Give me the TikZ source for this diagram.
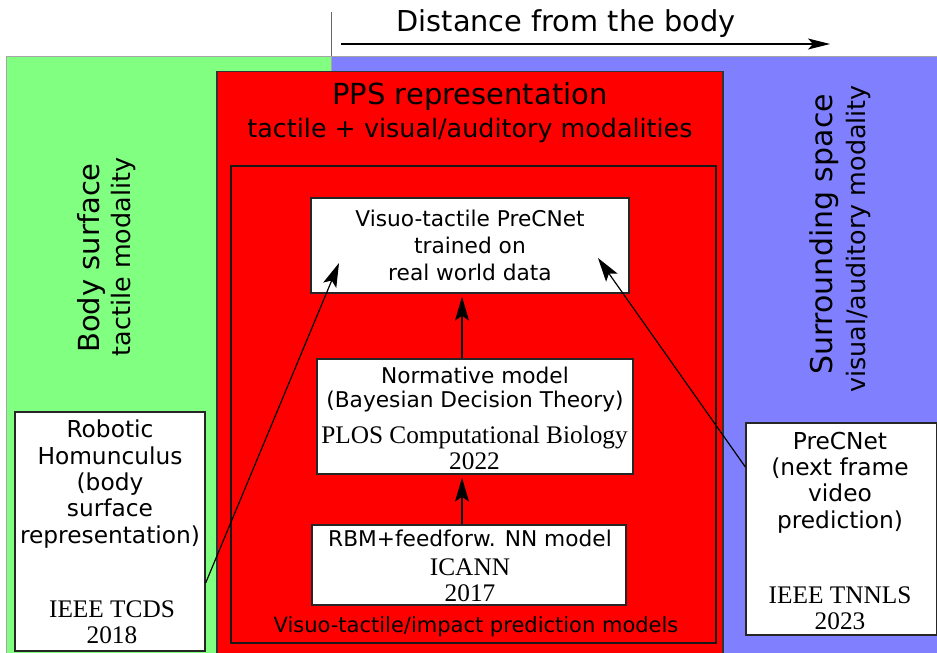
\documentclass[tikz,border=0pt]{standalone}
\usepackage{fontspec}
\setmainfont{DejaVu Sans}
\newfontfamily\pubfont{Liberation Serif}
\usetikzlibrary{arrows.meta,calc}
\definecolor{greenreg}{HTML}{80FF80}
\definecolor{bluereg}{HTML}{8080FF}
\definecolor{redreg}{HTML}{FF0000}
\begin{document}
\begin{tikzpicture}[x=1pt,y=-1pt,
  box/.style={draw=black!85, line width=1.3pt, fill=white, inner sep=0pt},
  arr/.style={-{Stealth[length=24pt,width=14pt,inset=5pt]}, line width=1.2pt, shorten >=3pt},
  txt/.style={anchor=base, align=center, inner sep=0pt},
  inbox/.style={txt, font=\fontsize{21.7}{27}\selectfont},
  sidebox/.style={txt, font=\fontsize{23.3}{26.3}\selectfont},
  pub/.style={txt, font=\pubfont\fontsize{25.3}{25.5}\selectfont},
  biglab/.style={txt, font=\fontsize{29}{32}\selectfont},
  sublab/.style={txt, font=\fontsize{25.4}{28}\selectfont}]
\useasboundingbox (0,0) rectangle (937,653);
\clip (0,0) rectangle (937,653);
% background regions
\path[draw=gray!70, line width=1pt, fill=greenreg] (6,56) rectangle (331,670);
\path[draw=gray!70, line width=1pt, fill=bluereg] (331,56) rectangle (950,670);
\draw[gray!80!black, line width=0.8pt] (331,12) -- (331,56);
\path[draw=black!80, line width=1.2pt, fill=redreg] (217,71.5) rectangle (723,670);
\draw[black!90, line width=1.3pt] (231,166) rectangle (716,643);
% distance arrow
\node[txt, font=\fontsize{28.8}{30}\selectfont] (dist) at (566,31.4) {Distance from the body};
\coordinate (d0) at (341,44);
\coordinate (d1) at (830,44);
\draw[-{Stealth[length=22pt,width=11pt,inset=5pt]}, line width=1.1pt] (d0) -- (d1);
% region labels
\node[biglab] (pps) at (470,104) {PPS representation};
\node[sublab] (ppsm) at (470,137.5) {tactile + visual/auditory modalities};
\node[biglab, rotate=90] (bs) at (99,258) {Body surface};
\node[sublab, rotate=90] (bsm) at (130,257) {tactile modality};
\node[biglab, rotate=90, font=\fontsize{30}{32}\selectfont] (ss) at (832,234.5) {Surrounding space};
\node[sublab, rotate=90] (ssm) at (865,239) {visual/auditory modality};
\node[txt, font=\fontsize{21}{24}\selectfont] (vtim) at (476,632) {Visuo-tactile/impact prediction models};
% boxes
\node[box, minimum width=318pt, minimum height=95pt] (vtp) at (470,245.5) {};
\node[box, minimum width=316pt, minimum height=115pt] (nrm) at (475,416.5) {};
\node[box, minimum width=314pt, minimum height=80pt] (rbm) at (469,565) {};
\node[box, minimum width=190pt, minimum height=239pt] (hom) at (110,531.5) {};
\node[box, minimum width=191pt, minimum height=212pt] (pcn) at (841.5,529) {};
% box texts (anchor base = baseline of the last line)
\node[inbox] (vtpt) at (470,280) {Visuo-tactile PreCNet\\trained on\\real world data};
\node[inbox, font=\fontsize{21.7}{24}\selectfont] (nrmt) at (475,407) {Normative model\\(Bayesian Decision Theory)};
\node[pub, font=\pubfont\fontsize{25.3}{26}\selectfont] (nrmp) at (474.5,469) {PLOS Computational Biology\\2022};
\node[inbox] (rbmt) at (470,546) {RBM+feedforw. NN model};
\node[pub] (rbmp) at (470,601) {ICANN\\2017};
\node[sidebox] (homt) at (110,543) {Robotic\\Homunculus\\(body\\surface\\representation)};
\node[pub] (homp) at (112,643) {IEEE TCDS\\2018};
\node[sidebox] (pcnt) at (840,528) {PreCNet\\(next frame\\video\\prediction)};
\node[pub] (pcnp) at (840,629) {IEEE TNNLS\\2023};
% connectors
\coordinate (ax) at (462,0);
\coordinate (tipL) at (339,263);
\coordinate (tipR) at (598,258);
\draw[arr] (rbm.north -| ax) -- (nrm.south -| ax);
\draw[arr] (nrm.north -| ax) -- (vtp.south -| ax);
\draw[arr, shorten >=0pt] ($(hom.east)+(0,51.5)$) -- (tipL);
\draw[arr, shorten >=0pt] ($(pcn.west)+(0,-62)$) -- (tipR);
\end{tikzpicture}
\end{document}
